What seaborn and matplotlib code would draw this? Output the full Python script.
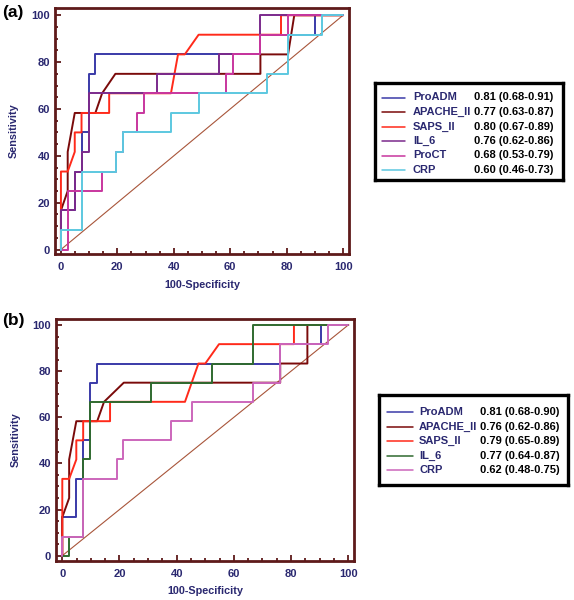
import matplotlib
matplotlib.use('Agg')
import matplotlib.pyplot as plt
import pandas as pd
import seaborn as sns
import numpy as np
from matplotlib.ticker import MultipleLocator

sns.set_style('white')
plt.rcParams['font.family'] = ['Liberation Sans', 'DejaVu Sans']
plt.rcParams['font.weight'] = 'bold'

# ---------------- panel (a) ----------------
a_proadm_x = [0, 0, 4.9, 4.9, 7.3, 7.3, 9.8, 9.8, 12.2, 12.2, 70.7, 70.7, 90.2, 90.2, 100]
a_proadm_y = [0, 16.7, 16.7, 33.3, 33.3, 50, 50, 75, 75, 83.3, 83.3, 91.7, 91.7, 100, 100]
a_apache_x = [0, 0, 2.4, 2.4, 4.9, 12.2, 14.6, 19.3, 70.7, 70.7, 80.5, 82.7, 100]
a_apache_y = [0, 16.7, 25, 41.7, 58.3, 58.3, 66.7, 75, 75, 83.3, 83.3, 100, 100]
a_saps_x = [0, 0, 2.4, 4.9, 4.9, 7.3, 7.3, 17.1, 17.1, 39.0, 41.5, 43.9, 48.8, 78.0, 78.0, 100]
a_saps_y = [0, 33.3, 33.3, 41.7, 50, 50, 58.3, 58.3, 66.7, 66.7, 83.3, 83.3, 91.7, 91.7, 100, 100]
a_il6_x = [0, 0, 4.9, 4.9, 7.3, 7.3, 9.8, 9.8, 34.1, 34.1, 56.1, 56.1, 70.7, 70.7, 100]
a_il6_y = [0, 16.7, 16.7, 33.3, 33.3, 41.7, 41.7, 66.7, 66.7, 75, 75, 83.3, 83.3, 100, 100]
a_proct_x = [0, 2.4, 2.4, 14.6, 14.6, 19.5, 19.5, 22.0, 22.0, 26.8, 26.8, 29.3, 29.3,
             58.5, 58.5, 61.0, 61.0, 70.7, 70.7, 80.5, 80.5, 100]
a_proct_y = [0, 0, 25, 25, 33.3, 33.3, 41.7, 41.7, 50, 50, 58.3, 58.3, 66.7,
             66.7, 75, 75, 83.3, 83.3, 91.7, 91.7, 100, 100]
a_crp_x = [0, 0, 7.3, 7.3, 19.5, 19.5, 22.0, 22.0, 39.0, 39.0, 48.8, 48.8, 73.2, 73.2,
           80.5, 80.5, 92.7, 92.7, 100]
a_crp_y = [0, 8.3, 8.3, 33.3, 33.3, 41.7, 41.7, 50, 50, 58.3, 58.3, 66.7, 66.7, 75,
           75, 91.7, 91.7, 100, 100]

a_names = ['ProADM', 'APACHE_II', 'SAPS_II', 'IL_6', 'ProCT', 'CRP']
a_auc = ['0.81 (0.68-0.91)', '0.77 (0.63-0.87)', '0.80 (0.67-0.89)',
         '0.76 (0.62-0.86)', '0.68 (0.53-0.79)', '0.60 (0.46-0.73)']

# ---------------- panel (b) ----------------
b_proadm_x = [0, 0, 4.9, 4.9, 7.3, 7.3, 9.8, 9.8, 12.2, 12.2, 76.2, 76.2, 90.5, 90.5, 100]
b_proadm_y = [0, 16.7, 16.7, 33.3, 33.3, 50, 50, 75, 75, 83.3, 83.3, 91.7, 91.7, 100, 100]
b_apache_x = [0, 0, 2.4, 2.4, 4.9, 12.2, 14.6, 21.5, 76.2, 76.2, 85.7, 85.7, 100]
b_apache_y = [0, 16.7, 25, 41.7, 58.3, 58.3, 66.7, 75, 75, 83.3, 83.3, 100, 100]
b_saps_x = [0, 0, 2.4, 4.9, 4.9, 7.3, 7.3, 16.7, 16.7, 42.9, 47.6, 50.0, 54.8, 81.0, 81.0, 100]
b_saps_y = [0, 33.3, 33.3, 41.7, 50, 50, 58.3, 58.3, 66.7, 66.7, 83.3, 83.3, 91.7, 91.7, 100, 100]
b_il6_x = [0, 2.4, 2.4, 7.3, 7.3, 9.8, 9.8, 31.0, 31.0, 52.4, 52.4, 66.7, 66.7, 100]
b_il6_y = [0, 0, 8.3, 8.3, 41.7, 41.7, 66.7, 66.7, 75, 75, 83.3, 83.3, 100, 100]
b_crp_x = [0, 0, 7.3, 7.3, 19.0, 19.0, 21.4, 21.4, 38.1, 38.1, 45.2, 45.2, 66.7, 66.7,
           76.2, 76.2, 92.9, 92.9, 100]
b_crp_y = [0, 8.3, 8.3, 33.3, 33.3, 41.7, 41.7, 50, 50, 58.3, 58.3, 66.7, 66.7, 75,
           75, 91.7, 91.7, 100, 100]

b_names = ['ProADM', 'APACHE_II', 'SAPS_II', 'IL_6', 'CRP']
b_auc = ['0.81 (0.68-0.90)', '0.76 (0.62-0.86)', '0.79 (0.65-0.89)',
         '0.77 (0.64-0.87)', '0.62 (0.48-0.75)']

tick_values = [0, 20, 40, 60, 80, 100]

a_colors = ['#3A3AA8', '#7A0A0A', '#FF2A1A', '#7B2A8C', '#C8369E', '#5CC8E0']
b_colors = ['#3A3AA8', '#7A0A0A', '#FF2A1A', '#2F6A2F', '#CC66BB']

frame_col = '#5E1A1A'
navy = '#2A2870'


def make_df(names, xs, ys):
    parts = []
    for n, x, y in zip(names, xs, ys):
        parts.append(pd.DataFrame({'fpr': x, 'sens': y, 'marker': n}))
    return pd.concat(parts, ignore_index=True)


df_a = make_df(a_names, [a_proadm_x, a_apache_x, a_saps_x, a_il6_x, a_proct_x, a_crp_x],
               [a_proadm_y, a_apache_y, a_saps_y, a_il6_y, a_proct_y, a_crp_y])
df_b = make_df(b_names, [b_proadm_x, b_apache_x, b_saps_x, b_il6_x, b_crp_x],
               [b_proadm_y, b_apache_y, b_saps_y, b_il6_y, b_crp_y])

fig = plt.figure(figsize=(5.74, 6.0), dpi=100)


def roc_panel(rect, df, names, colors, xlim, ylim, lab_x, lab_y):
    ax = fig.add_axes(rect)
    ax.plot([0, 100], [0, 100], color='#A8553A', lw=0.8, zorder=1)
    sns.lineplot(data=df, x='fpr', y='sens', hue='marker', hue_order=names,
                 palette=colors, sort=False, estimator=None, legend=False,
                 lw=1.4, ax=ax, zorder=2)
    ax.set_xlim(*xlim)
    ax.set_ylim(*ylim)
    ax.set_xticks(tick_values)
    ax.set_yticks(tick_values)
    ax.xaxis.set_minor_locator(MultipleLocator(5))
    ax.yaxis.set_minor_locator(MultipleLocator(5))
    ax.tick_params(which='both', direction='in', color=frame_col, width=1.3,
                   bottom=True, left=True, top=False, right=False)
    ax.tick_params(which='major', length=4.0)
    ax.tick_params(which='minor', length=2.5)
    ax.tick_params(axis='x', which='major', pad=6.0, labelsize=8, labelcolor=navy)
    ax.tick_params(axis='y', which='major', pad=3.6, labelsize=8, labelcolor=navy)
    for lab in ax.get_xticklabels() + ax.get_yticklabels():
        lab.set_fontweight('bold')
    for sp in ax.spines.values():
        sp.set_color(frame_col)
        sp.set_linewidth(2.0)
    ax.set_xlabel('100-Specificity', fontsize=7.8, fontweight='bold', color=navy)
    ax.set_ylabel('Sensitivity', fontsize=7.8, fontweight='bold', color=navy)
    ax.xaxis.set_label_coords(0.5, lab_x)
    ax.yaxis.set_label_coords(lab_y, 0.5)
    return ax


def legend_box(rect, names, aucs, colors, height, row0, line_x, name_x, val_x):
    lg = fig.add_axes(rect)
    lg.set_xlim(0, 189)
    lg.set_ylim(height, 0)
    lg.set_xticks([])
    lg.set_yticks([])
    for sp in lg.spines.values():
        sp.set_color('black')
        sp.set_linewidth(2.4)
    for i, (n, v, c) in enumerate(zip(names, aucs, colors)):
        yy = row0 + i * 14.5
        lg.plot(line_x, [yy, yy], color=c, lw=1.1)
        lg.text(name_x, yy, n, color=navy, fontsize=8, fontweight='bold', va='center', ha='left')
        lg.text(val_x, yy, v, color='black', fontsize=8, fontweight='bold', va='center', ha='left')
    return lg


ax_a = roc_panel([55 / 574, 1 - 254 / 600, 294 / 574, 246 / 600], df_a, a_names, a_colors,
                 (-2.1, 102.1), (-1.9, 103.1), -0.106, -0.122)
ax_b = roc_panel([56 / 574, 1 - 561 / 600, 298 / 574, 242 / 600], df_b, b_names, b_colors,
                 (-2.2, 102.0), (-2.3, 102.6), -0.103, -0.117)

legend_box([375 / 574, 1 - 180 / 600, 188 / 574, 97 / 600], a_names, a_auc, a_colors,
           97, 14.5, [7, 30], 38, 100)
legend_box([379 / 574, 1 - 485 / 600, 189 / 574, 90 / 600], b_names, b_auc, b_colors,
           90, 17.3, [8, 34], 40, 101)

fig.text(2 / 574, 1 - 13 / 600, '(a)', fontsize=12.5, fontweight='bold', color='black', va='center')
fig.text(2 / 574, 1 - 321 / 600, '(b)', fontsize=12.5, fontweight='bold', color='black', va='center')

fig.savefig('out.png', dpi=100, facecolor='white')
